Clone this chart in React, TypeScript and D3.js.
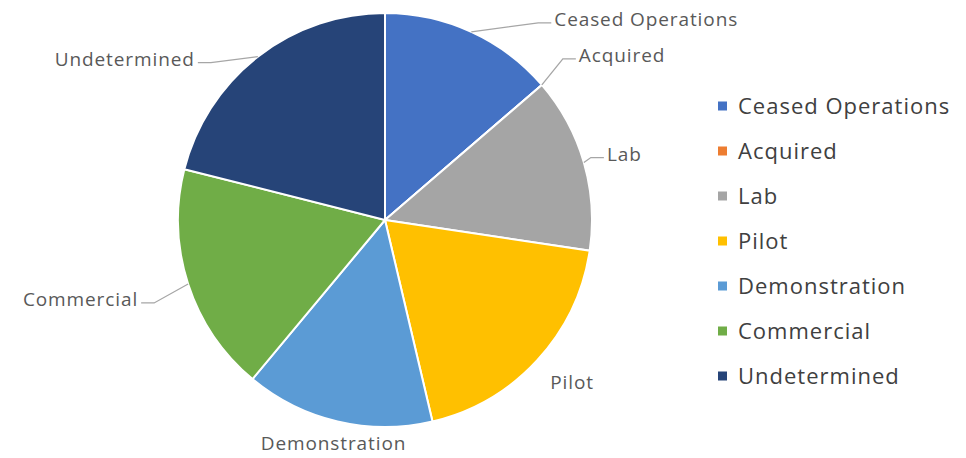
import React from "react";
import * as d3 from "d3";

const categories = [
  "Ceased Operations",
  "Acquired",
  "Lab",
  "Pilot",
  "Demonstration",
  "Commercial",
  "Undetermined",
];
const counts = [13, 0, 13, 18, 14, 17, 20];
const colors = ["#4472C4", "#ED7D31", "#A5A5A5", "#FFC000", "#5B9BD5", "#70AD47", "#264478"];

// label placement relative to the slice's outer midpoint
const labelLayout: Record<string, { dx: number; dy: number; anchor: string; leader: boolean }> = {
  "Ceased Operations": { dx: 83, dy: -6, anchor: "start", leader: true },
  Acquired: { dx: 37, dy: -23, anchor: "start", leader: true },
  Lab: { dx: 23, dy: -2, anchor: "start", leader: true },
  Pilot: { dx: 13, dy: 29, anchor: "start", leader: false },
  Demonstration: { dx: -4, dy: 29, anchor: "middle", leader: false },
  Commercial: { dx: -50, dy: 22, anchor: "end", leader: true },
  Undetermined: { dx: -63, dy: 9, anchor: "end", leader: true },
};

const width = 966,
  height = 458;
const cx = 385,
  cy = 220,
  radius = 207;
const font = "'Open Sans', sans-serif";

export default function App() {
  const data = categories.map((c, i) => ({ name: c, value: counts[i], color: colors[i] }));
  const pie = d3
    .pie<any>()
    .value((d) => d.value)
    .sort(null);
  const arcs = pie(data);
  const arc = d3.arc<any>().innerRadius(0).outerRadius(radius);

  const legendY = d3
    .scalePoint()
    .domain(categories)
    .range([106, 376]);

  return (
    <svg
      width={width}
      height={height}
      style={{ position: "absolute", left: 0, top: 0, background: "#fff" }}
    >
      <g transform={`translate(${cx},${cy})`}>
        {arcs.map((a) => (
          <path key={a.data.name} d={arc(a) || ""} fill={a.data.color} stroke="#fff" strokeWidth={2} />
        ))}
        {arcs.map((a) => {
          const mid = (a.startAngle + a.endAngle) / 2;
          const px = radius * Math.sin(mid);
          const py = -radius * Math.cos(mid);
          const lay = labelLayout[a.data.name];
          const tx = px + lay.dx;
          const ty = py + lay.dy;
          let leader = null;
          if (lay.leader) {
            const dir = lay.anchor === "end" ? -1 : 1;
            const endX = tx - dir * 3;
            const elbowX = endX - dir * 13;
            const ly = ty - 3;
            leader = (
              <polyline
                points={`${px},${py} ${elbowX},${ly} ${endX},${ly}`}
                fill="none"
                stroke="#a6a6a6"
                strokeWidth={1.3}
              />
            );
          }
          return (
            <g key={"lbl" + a.data.name}>
              {leader}
              <text
                x={tx}
                y={ty}
                textAnchor={lay.anchor}
                fontFamily={font}
                fontSize={19}
                letterSpacing={0.9}
                fill="#595959"
              >
                {a.data.name}
              </text>
            </g>
          );
        })}
      </g>
      <g>
        {data.map((d) => (
          <g key={"leg" + d.name} transform={`translate(718,${legendY(d.name)})`}>
            <rect x={0} y={-4.5} width={9} height={9} fill={d.color} />
            <text
              x={20}
              y={0}
              dy="0.35em"
              fontFamily={font}
              fontSize={22}
              letterSpacing={1}
              fill="#404040"
            >
              {d.name}
            </text>
          </g>
        ))}
      </g>
    </svg>
  );
}
